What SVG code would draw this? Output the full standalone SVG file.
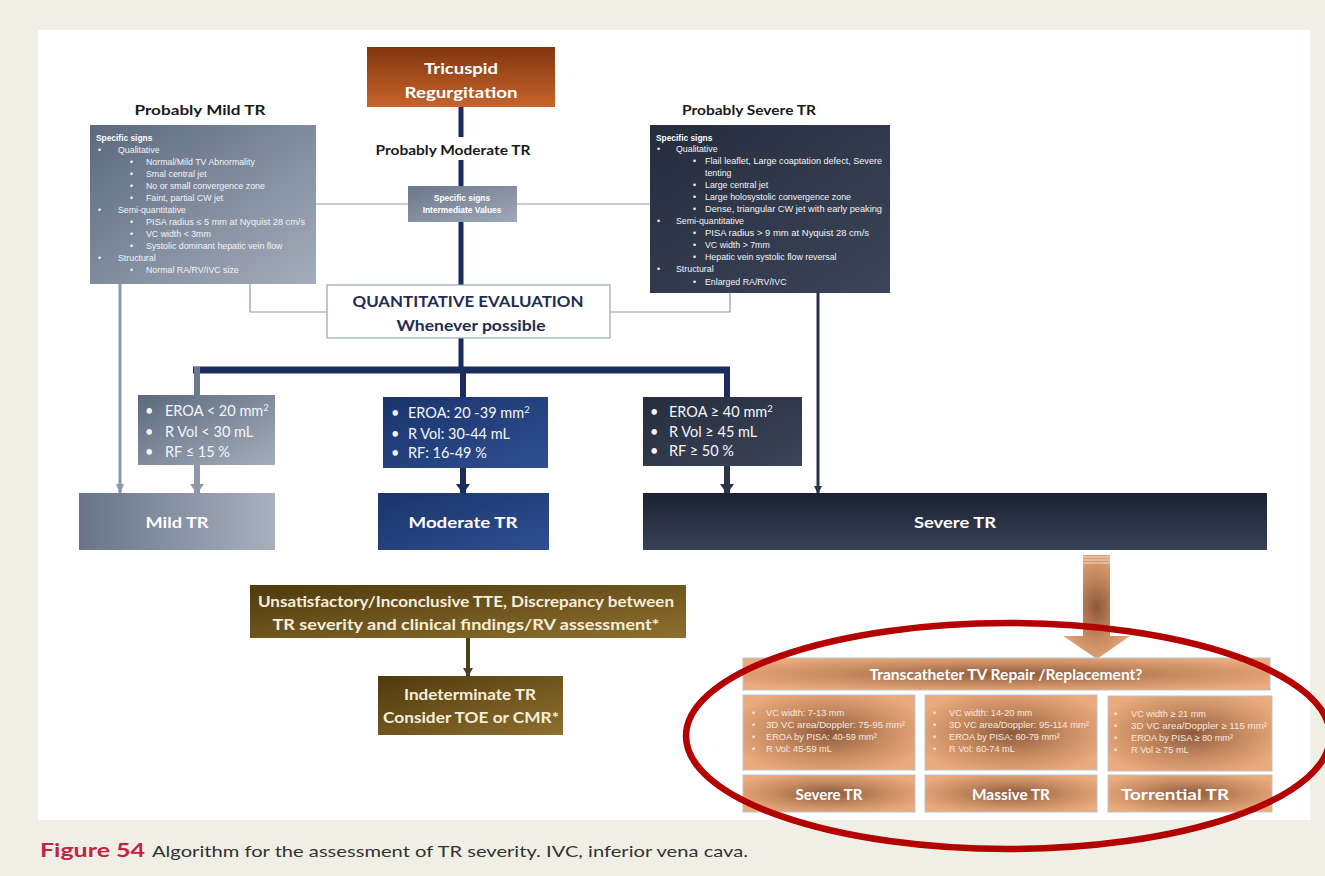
<svg xmlns="http://www.w3.org/2000/svg" width="1325" height="876" viewBox="0 0 1325 876">
<style>
.hd{font-family:Lato,"Liberation Sans",sans-serif;font-weight:bold;fill:#1a1a1a;font-size:14px;}
.lbl{font-family:Lato,"Liberation Sans",sans-serif;font-weight:bold;fill:#ffffff;font-size:16px;text-anchor:middle;}
.sm{font-family:"Liberation Sans",Arial,sans-serif;fill:#f2f4f8;font-size:8.8px;}
.smb{font-family:"Liberation Sans",Arial,sans-serif;fill:#ffffff;font-size:8.4px;font-weight:bold;}
.er{font-family:Lato,"Liberation Sans",sans-serif;fill:#f4f6fa;font-size:14.5px;}
.cu{font-family:"Liberation Sans",Arial,sans-serif;fill:#fbe9dc;font-size:9.2px;}
.thin{fill:none;stroke:#8d98aa;stroke-width:1.2;}
.navy{fill:none;stroke:#1b2d5e;stroke-width:5;}
</style>
<defs>
<linearGradient id="gOr" x1="0" y1="0" x2="0" y2="1"><stop offset="0" stop-color="#823510"/><stop offset="1" stop-color="#c8642c"/></linearGradient>
<linearGradient id="gGrey" x1="0" y1="0" x2="1" y2="1"><stop offset="0" stop-color="#5c697e"/><stop offset="1" stop-color="#a4adbb"/></linearGradient>
<linearGradient id="gGreyH" x1="0" y1="0" x2="1" y2="0"><stop offset="0" stop-color="#687488"/><stop offset="1" stop-color="#a8b0bd"/></linearGradient>
<linearGradient id="gNavy" x1="0" y1="0" x2="1" y2="1"><stop offset="0" stop-color="#252d3d"/><stop offset="1" stop-color="#3c4559"/></linearGradient>
<linearGradient id="gBlue" x1="0" y1="0" x2="1" y2="1"><stop offset="0" stop-color="#1a346c"/><stop offset="1" stop-color="#2f4f90"/></linearGradient>
<linearGradient id="gSev" x1="0" y1="0" x2="0" y2="1"><stop offset="0" stop-color="#1a2131"/><stop offset="1" stop-color="#394256"/></linearGradient>
<linearGradient id="gBrown" x1="0" y1="0" x2="1" y2="1"><stop offset="0" stop-color="#4f3a0d"/><stop offset="1" stop-color="#8e702f"/></linearGradient>
<linearGradient id="gMid" x1="0" y1="0" x2="1" y2="1"><stop offset="0" stop-color="#6a768b"/><stop offset="1" stop-color="#a0a9b8"/></linearGradient>
<radialGradient id="gCu" cx="0.5" cy="0.5" r="0.6"><stop offset="0" stop-color="#8c5a3d"/><stop offset="0.55" stop-color="#c98c62"/><stop offset="1" stop-color="#eaac7e"/></radialGradient>
<marker id="mGrey" markerUnits="userSpaceOnUse" markerWidth="10" markerHeight="8" refX="9" refY="4" orient="auto"><path d="M0,0 L10,4 L0,8 z" fill="#8d98aa"/></marker>
<marker id="mGreyB" markerUnits="userSpaceOnUse" markerWidth="10" markerHeight="14" refX="9" refY="7" orient="auto"><path d="M0,0 L10,7 L0,14 z" fill="#8d98aa"/></marker>
<marker id="mNavy" markerUnits="userSpaceOnUse" markerWidth="10" markerHeight="14" refX="9" refY="7" orient="auto"><path d="M0,0 L10,7 L0,14 z" fill="#1b2d5e"/></marker>
<marker id="mDark" markerUnits="userSpaceOnUse" markerWidth="10" markerHeight="14" refX="9" refY="7" orient="auto"><path d="M0,0 L10,7 L0,14 z" fill="#2b3448"/></marker>
<marker id="mDarkS" markerUnits="userSpaceOnUse" markerWidth="8" markerHeight="8" refX="7" refY="4" orient="auto"><path d="M0,0 L8,4 L0,8 z" fill="#2b3448"/></marker>
<marker id="mBr" markerUnits="userSpaceOnUse" markerWidth="9" markerHeight="10" refX="8" refY="5" orient="auto"><path d="M0,0 L9,5 L0,10 z" fill="#4d3e1f"/></marker>
</defs>

<rect x="0" y="0" width="1325" height="876" fill="#f0efe5"/>
<rect x="38" y="30" width="1272" height="790" fill="#ffffff"/>

<g id="connectors">
  <line class="navy" x1="461" y1="107" x2="461" y2="137"/>
  <line class="navy" x1="461" y1="160" x2="461" y2="186"/>
  <line class="navy" x1="461" y1="222" x2="461" y2="285"/>
  <line class="navy" x1="461" y1="338" x2="461" y2="371"/>
  <line x1="193" y1="370" x2="730" y2="370" stroke="#1b2d5e" stroke-width="7"/>
  <line x1="197" y1="367" x2="197" y2="395" stroke="#6b788f" stroke-width="6"/>
  <line x1="463" y1="370" x2="463" y2="397" stroke="#1b2d5e" stroke-width="6"/>
  <line x1="727" y1="370" x2="727" y2="397" stroke="#1b2d5e" stroke-width="6"/>
  <line class="thin" x1="316" y1="204" x2="408" y2="204"/>
  <line class="thin" x1="517" y1="204" x2="650" y2="204"/>
  <polyline class="thin" points="250,284 250,312 327,312"/>
  <polyline class="thin" points="730,293 730,312 610,312"/>
  <line x1="120" y1="284" x2="120" y2="493" stroke="#8d98aa" stroke-width="3" marker-end="url(#mGrey)"/>
  <line x1="197" y1="465" x2="197" y2="493" stroke="#8d98aa" stroke-width="6" marker-end="url(#mGreyB)"/>
  <line x1="463" y1="468" x2="463" y2="493" stroke="#1b2d5e" stroke-width="6" marker-end="url(#mNavy)"/>
  <line x1="727" y1="466" x2="727" y2="493" stroke="#2b3448" stroke-width="6" marker-end="url(#mDark)"/>
  <line x1="818" y1="293" x2="818" y2="493" stroke="#2b3448" stroke-width="3" marker-end="url(#mDarkS)"/>
  <line x1="468" y1="638" x2="468" y2="676" stroke="#4d3e1f" stroke-width="4" marker-end="url(#mBr)"/>
  <path d="M1083,555 L1110,555 L1110,636 L1130,636 L1097,659 L1063,636 L1083,636 z" fill="url(#gCu)"/>
  <g stroke="#ffffff" stroke-width="0.8" opacity="0.8">
    <line x1="1083" y1="557" x2="1110" y2="557"/><line x1="1083" y1="560" x2="1110" y2="560"/><line x1="1083" y1="563" x2="1110" y2="563"/>
  </g>
</g>

<g id="n-tricuspid">
  <rect x="367" y="47" width="188" height="60" fill="url(#gOr)"/>
  <text class="lbl" x="461" y="74" font-size="18" textLength="74" lengthAdjust="spacingAndGlyphs">Tricuspid</text>
  <text class="lbl" x="461" y="98" font-size="18" textLength="113" lengthAdjust="spacingAndGlyphs">Regurgitation</text>
</g>

<g id="n-prob-mild-label"><text class="hd" x="200" y="115" text-anchor="middle" textLength="131" lengthAdjust="spacingAndGlyphs">Probably Mild TR</text></g>
<g id="n-prob-mod-label"><text class="hd" x="453" y="155" text-anchor="middle" textLength="155" lengthAdjust="spacingAndGlyphs">Probably Moderate TR</text></g>
<g id="n-prob-sev-label"><text class="hd" x="749" y="115" text-anchor="middle" textLength="134" lengthAdjust="spacingAndGlyphs">Probably Severe TR</text></g>

<g id="n-mild-signs">
  <rect x="90" y="125" width="226" height="159" fill="url(#gGrey)"/>
  <text class="smb" x="96" y="141">Specific signs</text>
  <g class="sm">
    <text x="98" y="153">•</text><text x="118" y="153">Qualitative</text>
    <text x="130" y="165">•</text><text x="146" y="165">Normal/Mild TV Abnormality</text>
    <text x="130" y="177">•</text><text x="146" y="177">Smal central jet</text>
    <text x="130" y="189">•</text><text x="146" y="189">No or small convergence zone</text>
    <text x="130" y="201">•</text><text x="146" y="201">Faint, partial CW jet</text>
    <text x="98" y="213">•</text><text x="118" y="213">Semi-quantitative</text>
    <text x="130" y="225">•</text><text x="146" y="225" textLength="159" lengthAdjust="spacingAndGlyphs">PISA radius ≤ 5 mm at Nyquist  28 cm/s</text>
    <text x="130" y="237">•</text><text x="146" y="237">VC width &lt; 3mm</text>
    <text x="130" y="249">•</text><text x="146" y="249">Systolic dominant  hepatic vein flow</text>
    <text x="98" y="261">•</text><text x="118" y="261">Structural</text>
    <text x="130" y="273">•</text><text x="146" y="273">Normal RA/RV/IVC size</text>
  </g>
</g>

<g id="n-mod-signs">
  <rect x="408" y="186" width="109" height="36" fill="url(#gMid)"/>
  <text class="smb" x="462" y="201" text-anchor="middle" font-size="7.5">Specific signs</text>
  <text class="smb" x="462" y="213" text-anchor="middle" font-size="7.5">Intermediate Values</text>
</g>

<g id="n-severe-signs">
  <rect x="650" y="125" width="240" height="168" fill="url(#gNavy)"/>
  <text class="smb" x="656" y="141">Specific signs</text>
  <g class="sm">
    <text x="657" y="152">•</text><text x="676" y="152">Qualitative</text>
    <text x="693" y="164">•</text><text x="705" y="164" textLength="177" lengthAdjust="spacingAndGlyphs">Flail leaflet, Large coaptation defect, Severe</text>
    <text x="705" y="176">tenting</text>
    <text x="693" y="188">•</text><text x="705" y="188">Large central jet</text>
    <text x="693" y="200">•</text><text x="705" y="200" textLength="146" lengthAdjust="spacingAndGlyphs">Large holosystolic convergence zone</text>
    <text x="693" y="212">•</text><text x="705" y="212" textLength="177" lengthAdjust="spacingAndGlyphs">Dense, triangular CW jet with early peaking</text>
    <text x="657" y="224">•</text><text x="676" y="224">Semi-quantitative</text>
    <text x="693" y="236">•</text><text x="705" y="236" textLength="164" lengthAdjust="spacingAndGlyphs">PISA radius &gt; 9 mm at Nyquist  28 cm/s</text>
    <text x="693" y="248">•</text><text x="705" y="248">VC width &gt; 7mm</text>
    <text x="693" y="260">•</text><text x="705" y="260">Hepatic vein systolic flow reversal</text>
    <text x="657" y="272">•</text><text x="676" y="272">Structural</text>
    <text x="693" y="285">•</text><text x="705" y="285">Enlarged RA/RV/IVC</text>
  </g>
</g>

<g id="n-quant">
  <rect x="327" y="285" width="283" height="53" fill="#ffffff" stroke="#9aa3b0" stroke-width="1.2"/>
  <text x="468" y="307" text-anchor="middle" font-family="Lato,'Liberation Sans',sans-serif" font-weight="bold" font-size="16" fill="#1f2d50" textLength="231" lengthAdjust="spacingAndGlyphs">QUANTITATIVE EVALUATION</text>
  <text x="471" y="331" text-anchor="middle" font-family="Lato,'Liberation Sans',sans-serif" font-weight="bold" font-size="16" fill="#1f2d50" textLength="149" lengthAdjust="spacingAndGlyphs">Whenever possible</text>
</g>

<g id="n-eroa-mild">
  <rect x="138" y="395" width="137" height="70" fill="url(#gGrey)"/>
  <g class="er">
    <text x="145" y="416">•</text><text x="165" y="416">EROA &lt; 20 mm<tspan font-size="9.5" dy="-5">2</tspan></text>
    <text x="145" y="437">•</text><text x="165" y="437">R Vol &lt; 30 mL</text>
    <text x="145" y="457">•</text><text x="165" y="457">RF ≤ 15 %</text>
  </g>
</g>
<g id="n-eroa-mod">
  <rect x="383" y="397" width="165" height="71" fill="url(#gBlue)"/>
  <g class="er">
    <text x="391" y="418">•</text><text x="408" y="418">EROA: 20 -39 mm<tspan font-size="9.5" dy="-5">2</tspan></text>
    <text x="391" y="439">•</text><text x="408" y="439">R Vol: 30-44 mL</text>
    <text x="391" y="458">•</text><text x="408" y="458">RF:  16-49 %</text>
  </g>
</g>
<g id="n-eroa-sev">
  <rect x="643" y="397" width="159" height="69" fill="url(#gNavy)"/>
  <g class="er">
    <text x="650" y="417">•</text><text x="669" y="417">EROA ≥ 40 mm<tspan font-size="9.5" dy="-5">2</tspan></text>
    <text x="650" y="437">•</text><text x="669" y="437">R Vol ≥ 45 mL</text>
    <text x="650" y="456">•</text><text x="669" y="456">RF ≥ 50 %</text>
  </g>
</g>

<g id="n-mild">
  <rect x="79" y="493" width="196" height="57" fill="url(#gGreyH)"/>
  <text class="lbl" x="177" y="528" textLength="63" lengthAdjust="spacingAndGlyphs">Mild TR</text>
</g>
<g id="n-moderate">
  <rect x="378" y="493" width="171" height="57" fill="url(#gBlue)"/>
  <text class="lbl" x="463" y="528" textLength="109" lengthAdjust="spacingAndGlyphs">Moderate TR</text>
</g>
<g id="n-severe">
  <rect x="643" y="493" width="624" height="57" fill="url(#gSev)"/>
  <text class="lbl" x="955" y="528" textLength="82" lengthAdjust="spacingAndGlyphs">Severe TR</text>
</g>

<g id="n-unsat">
  <rect x="250" y="585" width="436" height="53" fill="url(#gBrown)"/>
  <text class="lbl" x="466" y="607" font-size="15" style="fill:#f6eedb" textLength="416" lengthAdjust="spacingAndGlyphs">Unsatisfactory/Inconclusive TTE, Discrepancy between</text>
  <text class="lbl" x="466" y="630" font-size="15" style="fill:#f6eedb" textLength="387" lengthAdjust="spacingAndGlyphs">TR severity and clinical findings/RV assessment*</text>
</g>
<g id="n-indet">
  <rect x="378" y="676" width="185" height="59" fill="url(#gBrown)"/>
  <text class="lbl" x="470" y="700" font-size="15" style="fill:#f6eedb" textLength="132" lengthAdjust="spacingAndGlyphs">Indeterminate TR</text>
  <text class="lbl" x="471" y="723" font-size="15" style="fill:#f6eedb" textLength="176" lengthAdjust="spacingAndGlyphs">Consider TOE or CMR*</text>
</g>

<g id="n-transcatheter">
  <rect x="743" y="658" width="527" height="32" fill="url(#gCu)" stroke="#b9c1cf" stroke-width="1"/>
  <text class="lbl" x="1006" y="680" font-size="15" textLength="273" lengthAdjust="spacingAndGlyphs">Transcatheter TV Repair /Replacement?</text>
</g>

<g id="n-info-severe">
  <rect x="743" y="695" width="172" height="75" fill="url(#gCu)" stroke="#b9c1cf" stroke-width="1"/>
  <g class="cu">
    <text x="752" y="716">•</text><text x="766" y="716">VC width: 7-13 mm</text>
    <text x="752" y="728">•</text><text x="766" y="728" textLength="139" lengthAdjust="spacingAndGlyphs">3D VC area/Doppler: 75-95 mm²</text>
    <text x="752" y="740">•</text><text x="766" y="740">EROA by PISA: 40-59 mm²</text>
    <text x="752" y="752">•</text><text x="766" y="752">R Vol: 45-59 mL</text>
  </g>
</g>
<g id="n-info-massive">
  <rect x="925" y="695" width="172" height="75" fill="url(#gCu)" stroke="#b9c1cf" stroke-width="1"/>
  <g class="cu">
    <text x="933" y="716">•</text><text x="949" y="716">VC width: 14-20 mm</text>
    <text x="933" y="728">•</text><text x="949" y="728" textLength="140" lengthAdjust="spacingAndGlyphs">3D VC area/Doppler: 95-114 mm²</text>
    <text x="933" y="740">•</text><text x="949" y="740">EROA by PISA: 60-79 mm²</text>
    <text x="933" y="752">•</text><text x="949" y="752">R Vol: 60-74 mL</text>
  </g>
</g>
<g id="n-info-torrential">
  <rect x="1108" y="696" width="164" height="75" fill="url(#gCu)" stroke="#b9c1cf" stroke-width="1"/>
  <g class="cu">
    <text x="1114" y="717">•</text><text x="1131" y="717">VC width ≥ 21 mm</text>
    <text x="1114" y="729">•</text><text x="1131" y="729" textLength="136" lengthAdjust="spacingAndGlyphs">3D VC area/Doppler ≥ 115 mm²</text>
    <text x="1114" y="741">•</text><text x="1131" y="741">EROA by PISA ≥  80 mm²</text>
    <text x="1114" y="753">•</text><text x="1131" y="753">R Vol ≥ 75 mL</text>
  </g>
</g>

<g id="n-lbl-severe">
  <rect x="743" y="775" width="172" height="37" fill="url(#gCu)" stroke="#b9c1cf" stroke-width="1"/>
  <text class="lbl" x="829" y="800" font-size="14" textLength="67" lengthAdjust="spacingAndGlyphs">Severe TR</text>
</g>
<g id="n-lbl-massive">
  <rect x="925" y="775" width="172" height="37" fill="url(#gCu)" stroke="#b9c1cf" stroke-width="1"/>
  <text class="lbl" x="1011" y="800" font-size="14" textLength="78" lengthAdjust="spacingAndGlyphs">Massive TR</text>
</g>
<g id="n-lbl-torrential">
  <rect x="1108" y="775" width="164" height="37" fill="url(#gCu)" stroke="#b9c1cf" stroke-width="1"/>
  <text class="lbl" x="1175" y="800" font-size="14" textLength="108" lengthAdjust="spacingAndGlyphs">Torrential TR</text>
</g>

<ellipse cx="1008" cy="736" rx="322" ry="113" fill="none" stroke="#b30000" stroke-width="6.5"/>

<g id="caption">
  <text x="40" y="857" font-family="Lato,'Liberation Sans',sans-serif" font-weight="bold" font-size="18" fill="#c8203f" textLength="105" lengthAdjust="spacingAndGlyphs">Figure 54</text>
  <text x="152" y="857" font-family="Lato,'Liberation Sans',sans-serif" font-size="16" fill="#333333" textLength="596" lengthAdjust="spacingAndGlyphs">Algorithm for the assessment of TR severity. IVC, inferior vena cava.</text>
</g>
</svg>
